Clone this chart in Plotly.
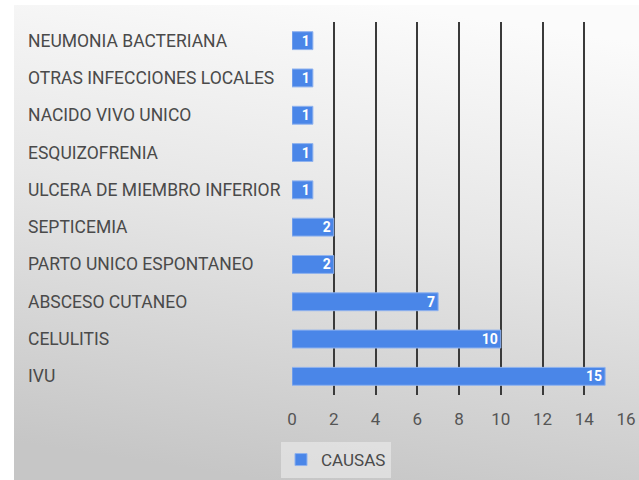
import base64

import plotly.graph_objects as go

CAUSES = [
    "NEUMONIA BACTERIANA",
    "OTRAS INFECCIONES LOCALES",
    "NACIDO VIVO UNICO",
    "ESQUIZOFRENIA",
    "ULCERA DE MIEMBRO INFERIOR",
    "SEPTICEMIA",
    "PARTO UNICO ESPONTANEO",
    "ABSCESO CUTANEO",
    "CELULITIS",
    "IVU",
]
COUNTS = [1, 1, 1, 1, 1, 2, 2, 7, 10, 15]
SERIES_NAME = "CAUSAS"
X_TICKS = [0, 2, 4, 6, 8, 10, 12, 14, 16]

FONT = "Roboto, sans-serif"
BAR_BLUE = "#4a86e8"

W, H = 639, 480
PLOT_L, PLOT_R, PLOT_T, PLOT_B = 292, 626, 22, 395


def px_to_paper_x(px):
    return (px - PLOT_L) / (PLOT_R - PLOT_L)


def px_to_paper_y(py):
    return (PLOT_B - py) / (PLOT_B - PLOT_T)


gradient_svg = (
    '<svg xmlns="http://www.w3.org/2000/svg" width="100" height="100" preserveAspectRatio="none">'
    '<defs><linearGradient id="g" x1="0.6" y1="0" x2="0.4" y2="1">'
    '<stop offset="0" stop-color="#fbfbfb"/>'
    '<stop offset="0.45" stop-color="#e6e6e6"/>'
    '<stop offset="1" stop-color="#c6c6c6"/>'
    '</linearGradient></defs>'
    '<rect width="100" height="100" fill="url(#g)"/></svg>'
)
gradient_uri = "data:image/svg+xml;base64," + base64.b64encode(gradient_svg.encode()).decode()

fig = go.Figure(
    go.Bar(
        x=COUNTS,
        y=CAUSES,
        orientation="h",
        name=SERIES_NAME,
        width=0.48,
        marker={"color": BAR_BLUE, "line": {"color": "#8fb2ee", "width": 1}},
        text=COUNTS,
        textposition="inside",
        insidetextanchor="end",
        textangle=0,
        constraintext="none",
        textfont={"color": "white", "family": FONT, "size": 14, "weight": "bold"},
        showlegend=True,
    )
)

for cause in CAUSES:
    fig.add_annotation(
        x=px_to_paper_x(27),
        xref="paper",
        y=cause,
        yref="y",
        text=cause,
        xanchor="left",
        showarrow=False,
        borderpad=0,
        font={"family": FONT, "size": 17.5, "color": "#4a4a4a"},
    )

fig.add_layout_image(
    source=gradient_uri,
    xref="paper",
    yref="paper",
    x=px_to_paper_x(14),
    y=px_to_paper_y(5),
    sizex=(W - 14) / (PLOT_R - PLOT_L),
    sizey=(H - 5) / (PLOT_B - PLOT_T),
    xanchor="left",
    yanchor="top",
    sizing="stretch",
    layer="below",
)

fig.update_layout(
    width=W,
    height=H,
    margin={"l": PLOT_L, "r": W - PLOT_R, "t": PLOT_T, "b": H - PLOT_B, "autoexpand": False},
    paper_bgcolor="white",
    plot_bgcolor="rgba(0,0,0,0)",
    font={"family": FONT, "size": 17, "color": "#555555"},
    bargap=0.52,
    legend={
        "orientation": "h",
        "x": px_to_paper_x(281),
        "y": px_to_paper_y(442),
        "xanchor": "left",
        "yanchor": "top",
        "bgcolor": "rgba(236,236,236,0.6)",
        "font": {"family": FONT, "size": 17, "color": "#4a4a4a"},
        "itemwidth": 30,
    },
)
fig.update_xaxes(
    range=[0, 16],
    tickvals=X_TICKS,
    showgrid=True,
    gridcolor="#3a3a3a",
    gridwidth=1.5,
    zeroline=False,
    showline=False,
    ticks="",
    ticklabelstandoff=12,
    tickfont={"family": FONT, "size": 17, "color": "#555555"},
    automargin=False,
    fixedrange=True,
)
fig.update_yaxes(
    autorange="reversed",
    showticklabels=False,
    showgrid=False,
    showline=False,
    ticks="",
    automargin=False,
    fixedrange=True,
)

fig.write_html(
    "out.html",
    config={"displayModeBar": False},
    post_script="document.body.style.margin='0';document.body.style.overflow='hidden';",
)
